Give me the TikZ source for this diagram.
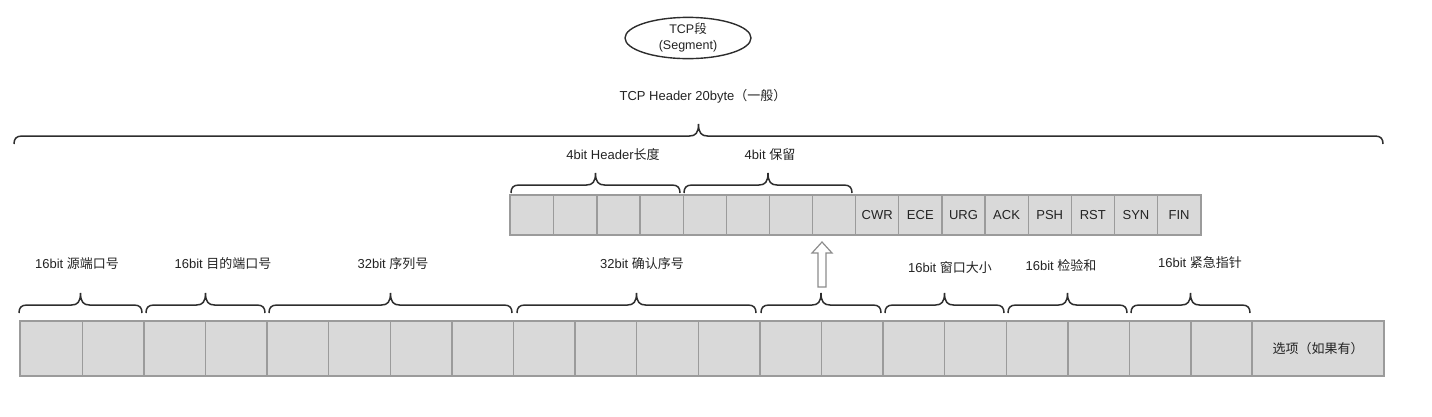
\documentclass[tikz,border=0pt]{standalone}
\usepackage{fontspec}
\setmainfont{Liberation Sans}
\newfontfamily\cjk{Noto Sans CJK SC}
\usetikzlibrary{calc,shapes.geometric}
\definecolor{cellfill}{RGB}{217,217,217}
\definecolor{cellborder}{RGB}{155,155,155}
\definecolor{bracecol}{RGB}{45,45,45}
\definecolor{arrowcol}{RGB}{140,140,140}
\definecolor{txtcol}{RGB}{35,35,35}
\newcommand\tcpbrace[3]{%
  \pgfmathsetmacro\xm{(#1+#2)/2}%
  \draw[bracestyle] (#1,#3) .. controls (#1,#3-5) and (#1+2,#3-8) .. (#1+8,#3-8)
    -- (\xm-9,#3-8) .. controls (\xm-3,#3-8) and (\xm,#3-11) .. (\xm,#3-20)
    .. controls (\xm,#3-11) and (\xm+3,#3-8) .. (\xm+9,#3-8)
    -- (#2-8,#3-8) .. controls (#2-2,#3-8) and (#2,#3-5) .. (#2,#3);}
\begin{document}
\begin{tikzpicture}[x=1pt,y=-1pt,
  cellbox/.style={draw=cellborder, fill=cellfill, line width=1.3pt, inner sep=0pt, anchor=north west, text=txtcol},
  lowcell/.style={cellbox, minimum width=61.6pt, minimum height=54pt},
  upcell/.style={cellbox, minimum width=43.125pt, minimum height=39pt, font=\fontsize{13}{15}\selectfont},
  frame/.style={draw=cellborder, line width=2.2pt},
  bracestyle/.style={draw=bracecol, line width=1.5pt},
  lbl/.style={font=\fontsize{13}{15}\selectfont, text=txtcol, inner sep=0pt},
  ]
\useasboundingbox (0,0) rectangle (1432,416);
% title ellipse
\node[draw=bracecol, line width=1.4pt, ellipse, minimum width=126pt, minimum height=38pt, inner sep=0pt,
  align=center, font=\fontsize{12.5}{16}\selectfont, text=txtcol] (seg) at (688,38) {TCP{\cjk 段}\\(Segment)};
\node[lbl] (hdr) at (703,96) {TCP Header 20byte{\cjk （一般）}};
\tcpbrace{14}{1383}{144}
% upper row
\foreach \i in {1,...,8}
  \node[upcell] (u\i) at ({510+43.125*(\i-1)},195) {};
\foreach \t [count=\j from 9] in {CWR,ECE,URG,ACK,PSH,RST,SYN,FIN}
  \node[upcell] (u\j) at ({510+43.125*(\j-1)},195) {\t};
\draw[frame] (u1.north west) rectangle (u16.south east);
\tcpbrace{511}{680}{193}
\tcpbrace{684}{852}{193}
\node[lbl] (lhl) at (613,155) {4bit Header{\cjk 长度}};
\node[lbl] (lrs) at (770,155) {4bit {\cjk 保留}};
% lower row
\foreach \i in {1,...,20}
  \node[lowcell] (b\i) at ({20+61.6*(\i-1)},321) {};
\node[lowcell, minimum width=131pt, font=\fontsize{13}{15}\selectfont] (opt) at (1252,321) {\cjk 选项（如果有）};
\draw[frame] (b1.north west) rectangle (opt.south east);
\draw[frame] (opt.north west) -- (opt.south west);
\tcpbrace{19}{142}{313}
\tcpbrace{146}{265}{313}
\tcpbrace{269}{512}{313}
\tcpbrace{517}{756}{313}
\tcpbrace{761}{881}{313}
\tcpbrace{885}{1004}{313}
\tcpbrace{1008}{1127}{313}
\tcpbrace{1131}{1250}{313}
\node[lbl] (l1) at (77,264) {16bit {\cjk 源端口号}};
\node[lbl] (l2) at (223,264) {16bit {\cjk 目的端口号}};
\node[lbl] (l3) at (393,264) {32bit {\cjk 序列号}};
\node[lbl] (l4) at (642,264) {32bit {\cjk 确认序号}};
\node[lbl] (l5) at (950,268) {16bit {\cjk 窗口大小}};
\node[lbl] (l6) at (1061,266) {16bit {\cjk 检验和}};
\node[lbl] (l7) at (1200,263) {16bit {\cjk 紧急指针}};
% hollow arrow
\coordinate (ab) at (822,287);
\draw[draw=arrowcol, fill=white, line width=1.2pt, line join=miter]
  ($(ab)+(-4,0)$) -- ($(ab)+(-4,-34)$) -- ($(ab)+(-10,-34)$) -- ($(ab)+(0,-45)$)
  -- ($(ab)+(10,-34)$) -- ($(ab)+(4,-34)$) -- ($(ab)+(4,0)$) -- cycle;
\end{tikzpicture}
\end{document}
